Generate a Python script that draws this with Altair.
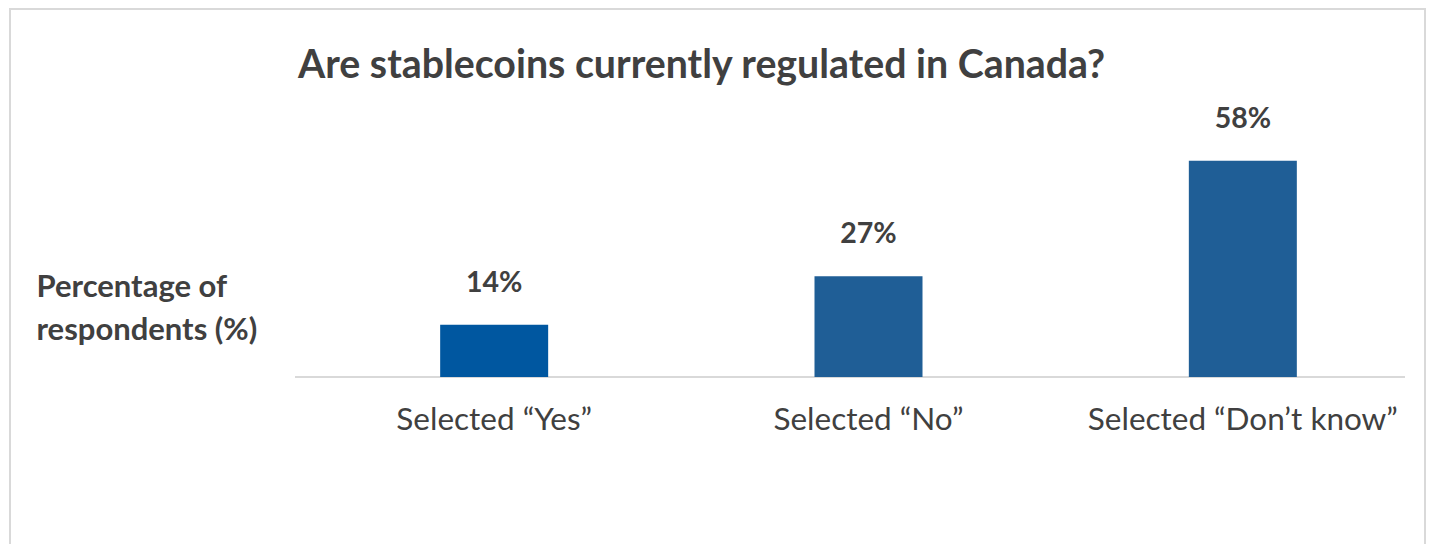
import altair as alt
import pandas as pd

categories = ["Selected \u201cYes\u201d", "Selected \u201cNo\u201d", "Selected \u201cDon\u2019t know\u201d"]
values = [14, 27, 58]
labels = ["14%", "27%", "58%"]
colors = ["#0057A0", "#1F5E96", "#1F5E96"]

df = pd.DataFrame({"cat": categories, "val": values, "lab": labels, "col": colors})

FONT = "Lato"
TXT = "#404040"

x_enc = alt.X("cat:N", sort=categories,
              scale=alt.Scale(range=[12, 1135], paddingInner=0, paddingOuter=0),
              axis=alt.Axis(title=None, labelAngle=0, ticks=False, tickSize=0,
                            labelFont=FONT, labelFontSize=31.5, labelColor=TXT,
                            labelPadding=52, labelBaseline="alphabetic", labelLimit=0,
                            domain=False, grid=False))
y_enc = alt.Y("val:Q", scale=alt.Scale(domain=[0, 70], nice=False),
              axis=alt.Axis(title=["Percentage of", "respondents (%)"], titleAngle=0,
                            titleAlign="left", titleBaseline="alphabetic",
                            titleX=-259, titleY=180, titleLineHeight=43,
                            titleFont=FONT, titleFontSize=31, titleFontWeight="bold",
                            titleColor=TXT, labels=False, ticks=False, domain=False,
                            grid=False))

bars = alt.Chart(df).mark_bar(size=108).encode(
    x=x_enc, y=y_enc, color=alt.Color("col:N", scale=None)
)
text = alt.Chart(df).mark_text(font=FONT, fontSize=28.5, fontWeight="bold", color=TXT,
                               baseline="alphabetic", dy=-33).encode(
    x=alt.X("cat:N", sort=categories), y="val:Q", text="lab:N"
)
baseline = alt.Chart(df).mark_rule(color="#d9d9d9", strokeWidth=2).encode(
    y=alt.datum(0), x=alt.value(0), x2=alt.value(1110)
)
frame = alt.Chart(df).mark_rect(fill=None, stroke="#d9d9d9", strokeWidth=2).encode(
    x=alt.value(-285), x2=alt.value(1130), y=alt.value(-107), y2=alt.value(440)
)

chart = alt.layer(frame, baseline, bars, text).properties(
    width=1110, height=261,
    title=alt.TitleParams("Are stablecoins currently regulated in Canada?",
                          anchor="start", font=FONT, fontSize=39.3, fontWeight="bold",
                          color=TXT, baseline="alphabetic", offset=-109, dx=289),
    autosize=alt.AutoSizeParams(type="none"),
    padding={"left": 295, "top": 116, "right": 27, "bottom": 167},
    background="white",
).configure_view(stroke=None)

chart.save("out.html", embed_options={"renderer": "svg", "actions": False})
